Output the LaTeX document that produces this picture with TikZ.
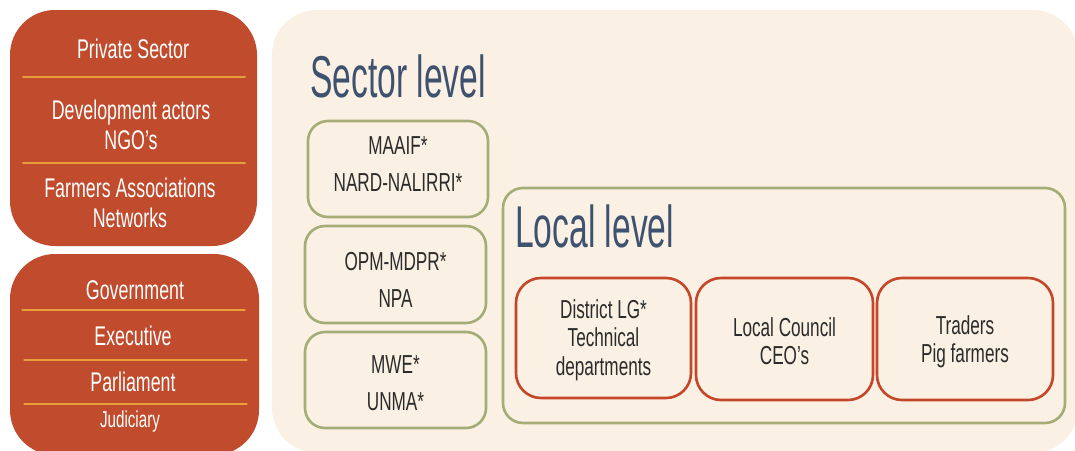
\documentclass[tikz,border=0pt]{standalone}
\usepackage{fontspec}
\setmainfont[FakeStretch=0.66]{Liberation Sans}
\newfontfamily\titlefont[FakeStretch=0.57]{Liberation Sans}
\usepackage{tikz}
\usetikzlibrary{calc}

\begin{document}
\begin{tikzpicture}
				[x=1pt,y=-1pt,line cap=round,
				%Styles
				rust box/.style={rectangle,rounded corners=45pt,fill=rust,draw=none},
				panel/.style={rounded corners=45pt,fill=beige,draw=none},
				sector box/.style={rectangle,rounded corners=20pt,draw=olive,line width=2.6pt,fill=beige},
				local box/.style={rectangle,rounded corners=25pt,draw=brick,line width=2.6pt,fill=beige},
				separator/.style={sepline,line width=1.2pt},
				white text/.style={text=white,align=center,inner sep=0pt,font=\fontsize{27}{30}\selectfont},
				dark text/.style={text=darktext,align=center,inner sep=0pt,font=\fontsize{26}{37}\selectfont},
				level title/.style={text=slate,anchor=base west,inner sep=0pt,font=\titlefont\fontsize{59}{60}\selectfont}
				]
				
				%Colors
				\definecolor{rust}{HTML}{C04B2D}
				\definecolor{sepline}{HTML}{E9A03B}
				\definecolor{beige}{HTML}{FAF0E3}
				\definecolor{olive}{HTML}{A3AD75}
				\definecolor{brick}{HTML}{C4472A}
				\definecolor{slate}{HTML}{3E5270}
				\definecolor{darktext}{HTML}{2B2B2B}
				
				\useasboundingbox (0,0) rectangle (1075,450);
				
				%Left side
				\node[rust box,minimum width=247pt,minimum height=236pt] (civil) at (133.5,128) {};
				\node[white text] (private) at (133,49) {Private Sector};
				\node[white text] (devactors) at (131,125) {Development actors\\NGO's};
				\node[white text] (farmers) at (130,203) {Farmers Associations\\Networks};
				\draw[separator] ($(civil.west)+(13,-51)$) -- ($(civil.east)+(-12,-51)$);
				\draw[separator] ($(civil.west)+(13,35)$) -- ($(civil.east)+(-12,35)$);
				
				\node[rust box,minimum width=249pt,minimum height=201pt] (gov) at (134.5,354.5) {};
				\node[white text] (government) at (135,290) {Government};
				\node[white text] (executive) at (133,336) {Executive};
				\node[white text] (parliament) at (133,382) {Parliament};
				\node[white text,font=\fontsize{23}{25}\selectfont] (judiciary) at (130,422) {Judiciary};
				\draw[separator] (22,310) -- (245,310);
				\draw[separator] (24,360) -- (247,360);
				\draw[separator] (24,404) -- (247,404);
				
				%Sector level
				\fill[panel] (272,10) rectangle (1078,453);
				\node[level title] (sectortitle) at (310,97) {Sector level};
				
				\node[sector box,minimum width=180pt,minimum height=96pt] (maaif) at (398,169) {};
				\node[dark text] at (maaif) [yshift=4.5pt] {MAAIF*\\NARD-NALIRRI*};
				\node[sector box,minimum width=181pt,minimum height=97pt] (opm) at (395.5,274.5) {};
				\node[dark text] at (opm) [yshift=-5pt] {OPM-MDPR*\\NPA};
				\node[sector box,minimum width=181pt,minimum height=96pt] (mwe) at (395.5,380) {};
				\node[dark text] at (mwe) [yshift=-3pt] {MWE*\\UNMA*};
				
				%Local level
				\node[sector box,minimum width=562pt,minimum height=235pt] (local) at (784,305.5) {};
				\node[level title] (localtitle) at (515,247) {Local level};
				
				\node[local box,minimum width=175pt,minimum height=120pt] (district) at (603.5,338) {};
				\node[dark text,font=\fontsize{26}{28.5}\selectfont] at (district) [yshift=-2pt] {District LG*\\Technical\\departments};
				\node[local box,minimum width=177pt,minimum height=122pt] (council) at (784.5,339) {};
				\node[dark text,font=\fontsize{26}{28.5}\selectfont] at (council) [yshift=-2pt] {Local Council\\CEO's};
				\node[local box,minimum width=176pt,minimum height=122pt] (traders) at (965,339) {};
				\node[dark text,font=\fontsize{26}{28.5}\selectfont] at (traders) [yshift=-3pt] {Traders\\Pig farmers};
			\end{tikzpicture}
\end{document}
